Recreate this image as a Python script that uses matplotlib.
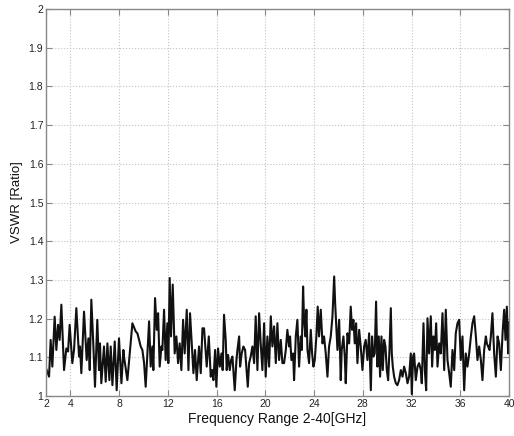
import numpy as np
import matplotlib
matplotlib.use("Agg")
import matplotlib.pyplot as plt

# VSWR trace, frequency in GHz
freq_ghz = [
    2.00, 2.25, 2.38, 2.52, 2.71, 2.85, 2.99, 3.12, 3.26, 3.48, 3.67, 3.81, 3.94, 4.16, 4.30, 4.49,
    4.71, 4.79, 4.90, 5.12, 5.34, 5.48, 5.59, 5.72, 5.89, 6.02, 6.21, 6.35, 6.43, 6.54, 6.76, 6.90,
    7.04, 7.20, 7.31, 7.45, 7.64, 7.80, 7.99, 8.19, 8.35,
    8.40, 8.68, 9.09, 9.36, 9.50, 9.64, 9.77, 9.91, 10.05, 10.18, 10.46, 10.59, 10.73, 10.81, 10.95,
    11.09, 11.20, 11.33, 11.47, 11.55, 11.69, 11.82, 11.96, 12.04, 12.15, 12.26, 12.40, 12.56, 12.70,
    12.84, 12.97, 13.11, 13.25, 13.38, 13.55, 13.69, 13.82, 14.10, 14.23, 14.37, 14.56, 14.70, 14.84,
    14.97, 15.19, 15.36, 15.52, 15.63, 15.74, 15.88, 15.98, 16.12, 16.26, 16.40, 16.50, 16.61, 16.75,
    16.83, 16.94, 17.08, 17.19, 17.30, 17.38, 17.49, 17.63, 17.71, 17.85, 17.93, 18.06, 18.20, 18.34,
    18.48, 18.56, 18.67, 18.80, 18.94, 19.08, 19.21, 19.35, 19.49, 19.62, 19.76, 19.90, 20.03, 20.17,
    20.31, 20.45, 20.58, 20.72, 20.86, 20.99, 21.13, 21.27, 21.40,
    21.54, 21.68, 21.81, 21.95, 22.03, 22.14, 22.28, 22.36, 22.50, 22.63, 22.77, 22.91, 22.99, 23.10,
    23.18, 23.29, 23.37, 23.46, 23.59, 23.73, 23.84, 23.95, 24.06, 24.19, 24.30, 24.41, 24.55, 24.69,
    24.82, 24.96, 25.10, 25.23, 25.37, 25.51, 25.65, 25.73, 25.84, 25.92, 26.06, 26.19, 26.27, 26.41,
    26.52, 26.60, 26.74, 26.88, 27.01, 27.12, 27.23, 27.34, 27.45, 27.56, 27.70, 27.83, 27.97,
    28.11, 28.24, 28.38, 28.52, 28.66, 28.76, 28.87, 28.98, 29.09, 29.20, 29.31, 29.42, 29.53, 29.64,
    29.75, 29.86, 29.97, 30.08, 30.19, 30.30, 30.38, 30.46, 30.57, 30.71, 30.84, 30.98, 31.12, 31.26,
    31.39, 31.53, 31.67, 31.80, 31.94, 32.02, 32.13, 32.21, 32.35, 32.49, 32.62, 32.76, 32.84, 32.98,
    33.09, 33.20, 33.31, 33.44, 33.58, 33.69, 33.80, 33.91, 34.02, 34.13, 34.27, 34.40, 34.54,
    34.68, 34.81, 34.95, 35.09, 35.22, 35.36, 35.50, 35.63, 35.77, 35.91, 36.04, 36.18, 36.32, 36.45,
    36.59, 36.73, 36.87, 37.00, 37.14, 37.28, 37.41, 37.55, 37.69, 37.82, 37.96, 38.10, 38.18, 38.29,
    38.40, 38.51, 38.64, 38.78, 38.92, 39.06, 39.19, 39.33, 39.47, 39.60, 39.71, 39.82, 39.93, 40.00,
]

vswr = [
    1.072, 1.050, 1.145, 1.076, 1.205, 1.119, 1.184, 1.145, 1.236, 1.067, 1.123, 1.115, 1.184, 1.085, 1.119, 1.227,
    1.102, 1.128, 1.059, 1.218, 1.093, 1.149, 1.067, 1.249, 1.128, 1.024, 1.197, 1.067, 1.136, 1.033, 1.128, 1.037,
    1.136, 1.041, 1.128, 1.028, 1.141, 1.015, 1.149, 1.033, 1.119,
    1.102, 1.041, 1.188, 1.167, 1.162, 1.145, 1.128, 1.119, 1.085, 1.024, 1.193, 1.076, 1.128, 1.067, 1.253,
    1.171, 1.214, 1.076, 1.128, 1.119, 1.223, 1.093, 1.188, 1.085, 1.305, 1.154, 1.288, 1.110, 1.154,
    1.085, 1.136, 1.067, 1.197, 1.110, 1.223, 1.067, 1.214, 1.059, 1.119, 1.041, 1.128, 1.059, 1.175,
    1.175, 1.076, 1.154, 1.050, 1.067, 1.041, 1.119, 1.024, 1.123, 1.076, 1.110, 1.067, 1.210, 1.145,
    1.067, 1.106, 1.067, 1.093, 1.102, 1.067, 1.015, 1.093, 1.119, 1.154, 1.076, 1.110, 1.128, 1.119,
    1.059, 1.024, 1.085, 1.102, 1.128, 1.085, 1.206, 1.067, 1.214, 1.136, 1.067, 1.188, 1.050, 1.154,
    1.076, 1.206, 1.128, 1.180, 1.085, 1.188, 1.093, 1.145, 1.085,
    1.085, 1.119, 1.171, 1.128, 1.154, 1.093, 1.110, 1.041, 1.154, 1.197, 1.076, 1.154, 1.119, 1.283,
    1.197, 1.154, 1.223, 1.119, 1.085, 1.171, 1.110, 1.076, 1.093, 1.154, 1.231, 1.154, 1.223, 1.136,
    1.154, 1.110, 1.050, 1.128, 1.154, 1.206, 1.309, 1.240, 1.171, 1.119, 1.197, 1.041, 1.119, 1.154,
    1.102, 1.033, 1.162, 1.136, 1.231, 1.171, 1.197, 1.136, 1.188, 1.085, 1.171, 1.128, 1.067,
    1.128, 1.145, 1.093, 1.162, 1.015, 1.154, 1.102, 1.110, 1.244, 1.076, 1.154, 1.050, 1.154, 1.067,
    1.145, 1.128, 1.067, 1.041, 1.119, 1.227, 1.110, 1.076, 1.050, 1.033, 1.028, 1.041, 1.067, 1.050,
    1.076, 1.059, 1.033, 1.050, 1.110, 1.005, 1.102, 1.110, 1.041, 1.076, 1.085, 1.067, 1.033, 1.188,
    1.067, 1.015, 1.201, 1.110, 1.206, 1.076, 1.154, 1.119, 1.188, 1.076, 1.136, 1.110, 1.214,
    1.067, 1.223, 1.093, 1.059, 1.024, 1.119, 1.067, 1.162, 1.188, 1.197, 1.093, 1.154, 1.015, 1.110,
    1.076, 1.110, 1.154, 1.188, 1.206, 1.154, 1.093, 1.128, 1.093, 1.041, 1.119, 1.154, 1.136, 1.128,
    1.119, 1.154, 1.214, 1.110, 1.050, 1.154, 1.136, 1.067, 1.162, 1.223, 1.145, 1.231, 1.110, 1.190,
]

x_ticks = [2, 4, 8, 12, 16, 20, 24, 28, 32, 36, 40]
y_ticks = [1, 1.1, 1.2, 1.3, 1.4, 1.5, 1.6, 1.7, 1.8, 1.9, 2]
y_tick_labels = ["1", "1.1", "1.2", "1.3", "1.4", "1.5", "1.6", "1.7", "1.8", "1.9", "2"]

plt.rcParams['font.family'] = ['Liberation Sans', 'DejaVu Sans']

fig = plt.figure(figsize=(5.14, 4.36), dpi=100)
ax = fig.add_axes([0.0895, 0.0917, 0.9008, 0.8876])

ax.plot(freq_ghz, vswr, color='#111111', linewidth=1.5)

ax.set_xlim(2, 40)
ax.set_ylim(1, 2)
ax.set_xticks(x_ticks)
ax.set_yticks(y_ticks)
ax.set_yticklabels(y_tick_labels)

# matlab-ish look: dotted grid, inward ticks on every side, grey box
ax.grid(True, color='#c4c4c4', linestyle=':', linewidth=0.8)
ax.tick_params(direction='in', top=True, right=True, length=4, width=0.8,
               colors='#888888', labelcolor='#222222', labelsize=7.5, pad=2)
for sp in ax.spines.values():
    sp.set_color('#888888')
    sp.set_linewidth(1.0)

ax.set_xlabel('Frequency Range 2-40[GHz]', fontsize=10, color='#111111', labelpad=2)
ax.set_ylabel('VSWR [Ratio]', fontsize=9.5, color='#111111', labelpad=4)

fig.savefig('out.png', dpi=100)
